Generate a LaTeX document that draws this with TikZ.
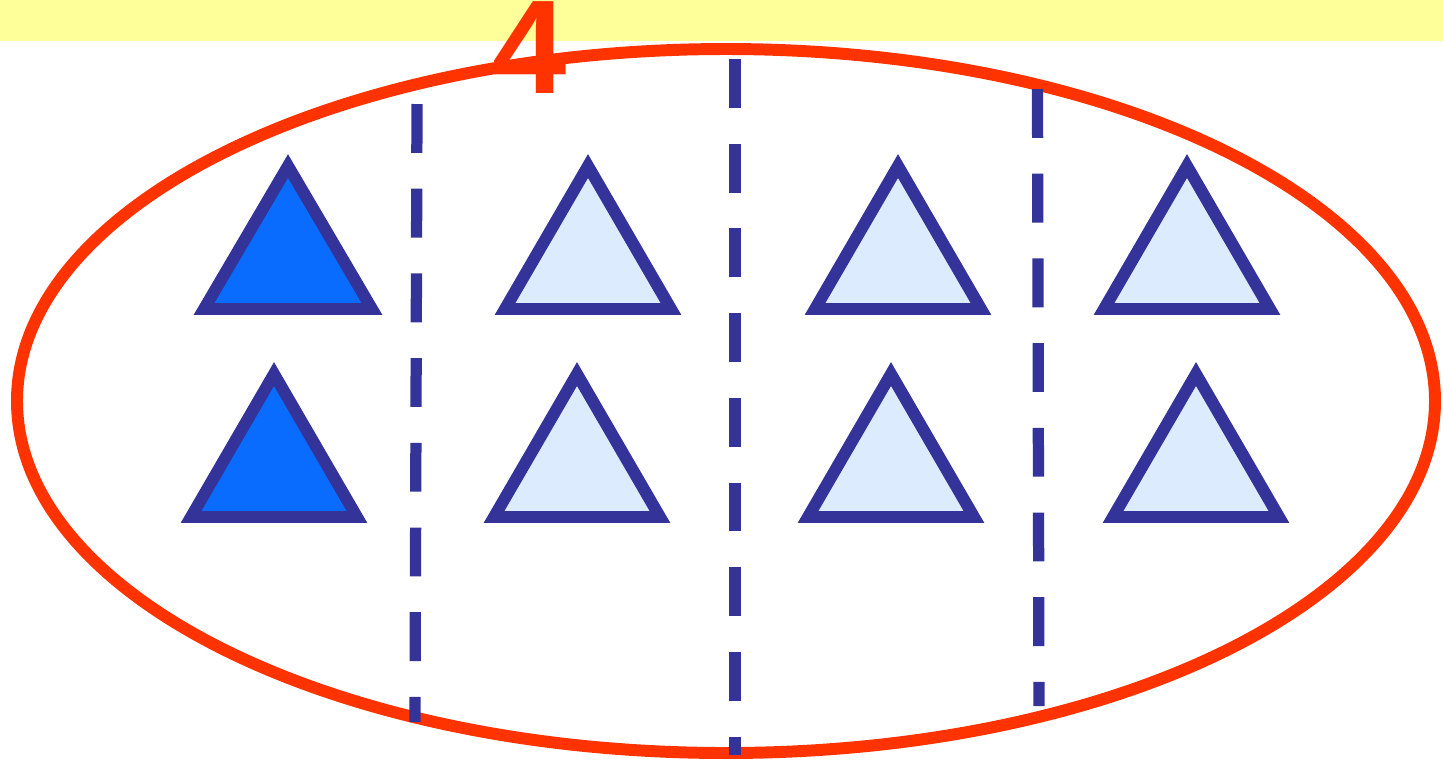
\documentclass[tikz,border=0pt]{standalone}
\usepackage{fontspec}
\newfontfamily\digitfont{Liberation Sans}
\usepackage{tikz}

\definecolor{bandyellow}{HTML}{FFFF99}
\definecolor{ringred}{HTML}{FF3300}
\definecolor{edgeblue}{HTML}{333399}
\definecolor{deepblue}{HTML}{0A6BFF}
\definecolor{paleblue}{HTML}{DDEBFF}

\begin{document}
\begin{tikzpicture}[
    tri/.style={draw=edgeblue, line width=3.4pt, line join=miter},
    divider/.style={draw=edgeblue, line width=3.2pt, dash pattern=on 13.9pt off 10.2pt},
    ring/.style={draw=ringred, line width=3.4pt}
  ]
    \useasboundingbox (0,0) rectangle (14.43,-7.64);
    \fill[bandyellow] (0,0) rectangle (14.43,-0.41);
    \node[inner sep=0pt, text=ringred, font=\digitfont\bfseries\fontsize{38}{38}\selectfont] (count) at (5.30,-0.48) {4};
    \draw[ring] (7.26,-4.01) ellipse [x radius=7.09, y radius=3.52];
    % dividers
    \draw[divider] (4.17,-1.04) -- (4.15,-7.22);
    \draw[divider] (7.35,-0.59) -- (7.35,-7.55);
    \draw[divider] (10.375,-0.89) -- (10.39,-7.06);
    % top row
    \draw[tri, fill=deepblue] (2.04,-3.09) -- ++(0.84,1.43) -- ++(0.84,-1.43) -- cycle;
    \draw[tri, fill=paleblue] (5.05,-3.09) -- ++(0.83,1.43) -- ++(0.83,-1.43) -- cycle;
    \draw[tri, fill=paleblue] (8.15,-3.09) -- ++(0.83,1.43) -- ++(0.83,-1.43) -- cycle;
    \draw[tri, fill=paleblue] (11.04,-3.09) -- ++(0.83,1.43) -- ++(0.83,-1.43) -- cycle;
    % bottom row
    \draw[tri, fill=deepblue] (1.91,-5.17) -- ++(0.83,1.43) -- ++(0.83,-1.43) -- cycle;
    \draw[tri, fill=paleblue] (4.94,-5.17) -- ++(0.83,1.43) -- ++(0.83,-1.43) -- cycle;
    \draw[tri, fill=paleblue] (8.08,-5.17) -- ++(0.83,1.43) -- ++(0.83,-1.43) -- cycle;
    \draw[tri, fill=paleblue] (11.13,-5.17) -- ++(0.83,1.43) -- ++(0.83,-1.43) -- cycle;
\end{tikzpicture}
\end{document}
